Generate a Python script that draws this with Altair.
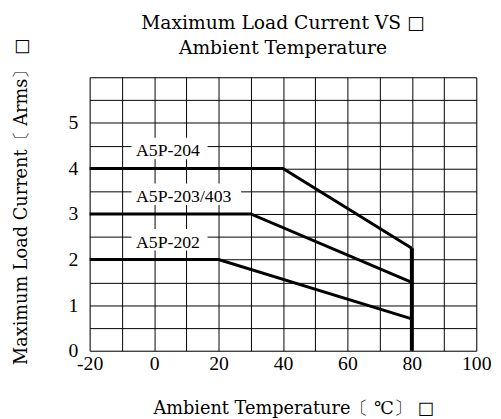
import altair as alt
import pandas as pd

# ---- data ----
series_names = ["A5P-204", "A5P-203/403", "A5P-202"]
temps_204 = [-20, 40, 80]
current_204 = [4.0, 4.0, 2.25]
temps_203 = [-20, 30, 80]
current_203 = [3.0, 3.0, 1.5]
temps_202 = [-20, 20, 80]
current_202 = [2.0, 2.0, 0.7]

cutoff_temp = [80]
cutoff_low = [0]
cutoff_high = [2.25]

label_text = ["A5P-204", "A5P-203/403", "A5P-202"]
label_x = [-5.6, -5.6, -5.6]
label_y = [4.37, 3.37, 2.37]
box_x = [-7.0, -7.0, -7.0]
box_x2 = [16.6, 27.0, 16.6]
box_y = [4.2, 3.2, 2.2]
box_y2 = [4.67, 3.67, 2.67]

x_grid_values = [-20, -10, 0, 10, 20, 30, 40, 50, 60, 70, 80, 90, 100]
y_grid_values = [0, 0.5, 1, 1.5, 2, 2.5, 3, 3.5, 4, 4.5, 5, 5.5, 6]

title_lines = ["Maximum Load Current VS \u25a1", "Ambient Temperature"]
x_title = "Ambient Temperature\u3014 \u2103\u3015 \u25a1"
y_title = "Maximum Load Current\u3014 Arms\u3015 \u25a1"

# ---- tables ----
rows = []
for name, xs, ys in zip(series_names, [temps_204, temps_203, temps_202],
                        [current_204, current_203, current_202]):
    for i, (a, b) in enumerate(zip(xs, ys)):
        rows.append({"series": name, "temp": a, "current": b, "order": i})
lines_df = pd.DataFrame(rows)

labels_df = pd.DataFrame({
    "text": label_text, "lx": label_x, "ly": label_y,
    "bx": box_x, "bx2": box_x2, "by": box_y, "by2": box_y2,
})
cut_df = pd.DataFrame({"temp": cutoff_temp, "lo": cutoff_low, "hi": cutoff_high})

SERIF = "DejaVu Serif"
NUMF = "Liberation Serif"

xscale = alt.Scale(domain=[-20, 100], nice=False, zero=False)
yscale = alt.Scale(domain=[0, 6], nice=False, zero=False)

xaxis = alt.Axis(
    values=x_grid_values,
    labelExpr="datum.value % 20 == 0 ? '' + datum.value : ''",
    grid=True, gridColor="black", gridWidth=1, gridOpacity=1,
    tickSize=0, domain=False, labelFlush=False, labelOverlap=False,
    labelFont=NUMF, labelFontSize=20, labelColor="black", labelPadding=3,
    title=x_title, titleFont=SERIF, titleFontSize=18, titleFontWeight="normal",
    titleColor="black", titleX=207, titleY=64, titleAlign="center",
    titleBaseline="alphabetic",
)
yaxis = alt.Axis(
    values=y_grid_values,
    labelExpr="(datum.value % 1 == 0 && datum.value < 6) ? '' + datum.value : ''",
    grid=True, gridColor="black", gridWidth=1, gridOpacity=1,
    tickSize=0, domain=False, labelOverlap=False,
    labelFont=NUMF, labelFontSize=20, labelColor="black", labelPadding=12,
    title=y_title, titleFont=SERIF, titleFontSize=18, titleFontWeight="normal",
    titleColor="black", titleX=-69, titleY=126, titleAngle=270,
    titleAlign="center", titleBaseline="middle",
)

base_lines = alt.Chart(lines_df).mark_line(color="black", strokeWidth=3).encode(
    x=alt.X("temp:Q", scale=xscale, axis=xaxis),
    y=alt.Y("current:Q", scale=yscale, axis=yaxis),
    detail="series:N",
    order="order:Q",
)

boxes = alt.Chart(labels_df).mark_rect(color="white").encode(
    x=alt.X("bx:Q", scale=xscale, axis=xaxis), x2="bx2:Q",
    y=alt.Y("by:Q", scale=yscale, axis=yaxis), y2="by2:Q",
)

texts = alt.Chart(labels_df).mark_text(
    font=NUMF, fontSize=18, color="black", align="left", baseline="middle"
).encode(
    x=alt.X("lx:Q", scale=xscale, axis=xaxis),
    y=alt.Y("ly:Q", scale=yscale, axis=yaxis),
    text="text:N",
)

cut = alt.Chart(cut_df).mark_rule(color="black", strokeWidth=4).encode(
    x=alt.X("temp:Q", scale=xscale, axis=xaxis),
    y=alt.Y("lo:Q", scale=yscale, axis=yaxis), y2="hi:Q",
)

chart = alt.layer(base_lines, boxes, texts, cut).properties(
    width=393, height=278,
    title=alt.TitleParams(
        title_lines, font=SERIF, fontSize=19, fontWeight="normal",
        color="black", lineHeight=25, anchor="middle", frame="group",
        offset=12, dy=32,
    ),
    autosize=alt.AutoSizeParams(type="none"),
    padding={"left": 83, "top": 67, "right": 17, "bottom": 66},
).configure_view(stroke=None, strokeWidth=0).configure(background="white")

chart.save("out.html", embed_options={"renderer": "svg", "actions": False})
